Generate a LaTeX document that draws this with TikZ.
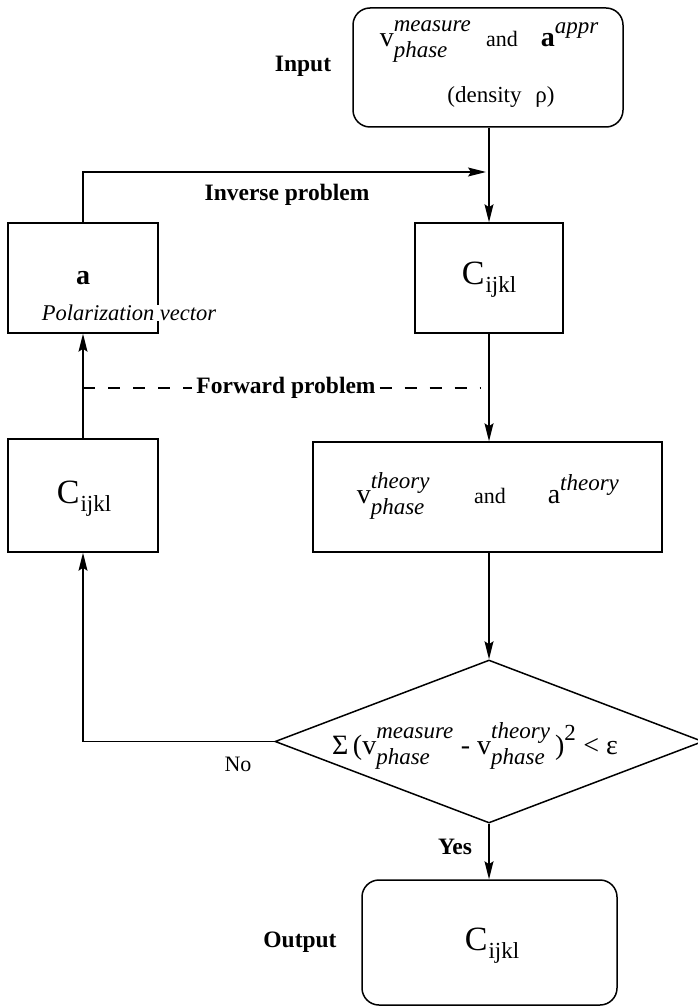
\documentclass[tikz,border=0pt]{standalone}
\usepackage{amsmath}
\usepackage{fontspec}
\setmainfont{Liberation Serif}
\DeclareMathSizes{28}{28}{23}{18}
\usetikzlibrary{shapes.geometric,arrows.meta}
\newcommand{\myvsubsup}[3]{#1$^{\text{\raisebox{6pt}{\itshape #2}}}_{\text{\raisebox{-3pt}{\itshape #3}}}$}
\newcommand{\myCijkl}{{\fontsize{34}{36}\selectfont C}\kern1pt\raisebox{-8pt}{\fontsize{23}{25}\selectfont ijkl}}
\begin{document}
\begin{tikzpicture}[x=1pt,y=-1pt,
  line width=1.5pt,
  box/.style={draw,rectangle,inner sep=0pt},
  rbox/.style={draw,rectangle,rounded corners=17pt,inner sep=0pt},
  arr/.style={-{Stealth[length=18pt,width=9pt,inset=3pt]}},
  lbl/.style={font=\fontsize{23.5}{26}\selectfont\bfseries},
  mtxt/.style={font=\fontsize{28}{32}\selectfont,inner sep=0pt},
  small/.style={font=\fontsize{22}{25}\selectfont,inner sep=0pt}]
\useasboundingbox (0,0) rectangle (697,1008);
% boxes
\node[rbox,minimum width=270pt,minimum height=119pt] (in) at (488,67.5) {};
\node[box,minimum width=150pt,minimum height=110pt] (a) at (83,278) {};
\node[box,minimum width=148pt,minimum height=110pt] (rc) at (489,278) {};
\node[box,minimum width=150pt,minimum height=113pt] (lc) at (83,495.5) {};
\node[box,minimum width=349pt,minimum height=110pt] (th) at (487.5,497) {};
\node[draw,diamond,inner sep=0pt,minimum width=428pt,minimum height=163pt,aspect=2.63] (dm) at (489,741.5) {};
\node[rbox,minimum width=255pt,minimum height=125pt] (out) at (489.5,942.5) {};
% labels outside boxes
\node[lbl] (tin) at (303,66) {Input};
\node[lbl] (tout) at (300,942) {Output};
\node[lbl] (tinv) at (287,195) {Inverse problem};
\node[lbl] (tfwd) at (286,388) {Forward problem};
\node[font=\fontsize{22}{25}\selectfont] (tno) at (238,764) {No};
\node[lbl] (tyes) at (455,847) {Yes};
% input box contents
\node[mtxt,anchor=base west] (t1) at (379,46.5) {\myvsubsup{v}{measure}{phase}};
\node[small,anchor=base] (t2) at (502,46.5) {and};
\node[mtxt,anchor=base west] (t3) at (540,46.5) {\textbf{a}$^{\text{\raisebox{4pt}{\itshape appr}}}$};
\node[small,font=\fontsize{23}{25}\selectfont] (t4) at (501,97) {(density\hspace{0.6em}ρ)};
% box a
\node[mtxt,font=\fontsize{28}{32}\selectfont\bfseries] (ta) at (83,278) {a};
\node[fill=white,inner xsep=1pt,inner ysep=0pt,font=\fontsize{22.5}{24}\selectfont\itshape] (tpol) at (129,313) {Polarization vector};
% C boxes
\node[inner sep=0pt] (trc) at (489,280) {\myCijkl};
\node[inner sep=0pt] (tlc) at (84,499) {\myCijkl};
\node[inner sep=0pt] (tout2) at (492,946) {\myCijkl};
% theory box
\node[mtxt,anchor=base west] (tth1) at (356,503.5) {\myvsubsup{v}{theory}{phase}};
\node[small,anchor=base] (tth2) at (490,503.5) {and};
\node[mtxt,anchor=base west] (tth3) at (547,503.5) {a$^{\text{\raisebox{4pt}{\itshape theory}}}$};
% diamond text
\node[mtxt,anchor=base] (tdm) at (475,754) {Σ\,(\myvsubsup{v}{measure}{phase} - \myvsubsup{v}{theory}{phase}\,)$^{\text{\raisebox{4pt}{2}}}$ < ε};
% coordinates
\coordinate (inv) at (486,172);
\coordinate (fl) at (83,388);
\coordinate (fr) at (480,388);
% connectors
\draw[arr] (rc.north |- in.south) -- (rc.north);
\draw[arr] (a.north) |- (inv);
\draw[arr] (rc.south) -- (rc.south |- th.north);
\draw[arr] (lc.north) -- (a.south);
\draw[arr] (dm.north |- th.south) -- (dm.north);
\draw[arr] (dm.west) -| (lc.south);
\draw[arr] (dm.south) -- (dm.south |- out.north);
\draw[dash pattern=on 12pt off 13pt] (fl) -- (tfwd.west);
\draw[dash pattern=on 12pt off 13pt] (tfwd.east) -- (fr);
\end{tikzpicture}
\end{document}
